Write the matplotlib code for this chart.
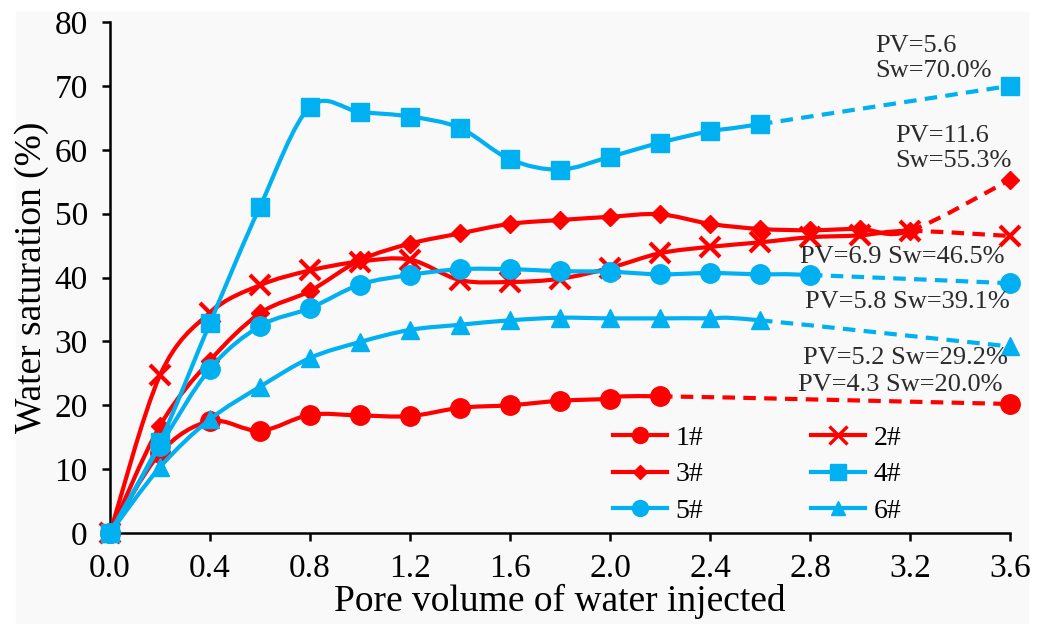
import numpy as np
import matplotlib.pyplot as plt
from matplotlib.path import Path
from matplotlib.patches import PathPatch, Rectangle
from matplotlib.lines import Line2D

plt.rcParams['font.family'] = ['Liberation Serif', 'DejaVu Serif']

# data
pv1 = [0.0, 0.2, 0.4, 0.6, 0.8, 1.0, 1.2, 1.4, 1.6, 1.8, 2.0, 2.2, 3.6]
sw1 = [0.0, 12.5, 17.5, 16.0, 18.5, 18.4, 18.3, 19.6, 20.0, 20.7, 21.0, 21.4, 20.2]

pv2 = [0.0, 0.2, 0.4, 0.6, 0.8, 1.0, 1.2, 1.4, 1.6, 1.8, 2.0, 2.2, 2.4, 2.6, 2.8, 3.0, 3.2, 3.6]
sw2 = [0.0, 24.7, 34.5, 38.8, 41.1, 42.5, 42.8, 39.6, 39.3, 39.8, 41.5, 43.8, 44.8, 45.5, 46.3, 46.6, 47.3, 46.5]

pv3 = [0.0, 0.2, 0.4, 0.6, 0.8, 1.0, 1.2, 1.4, 1.6, 1.8, 2.0, 2.2, 2.4, 2.6, 2.8, 3.0, 3.2, 3.6]
sw3 = [0.0, 16.8, 27.0, 34.4, 37.9, 42.7, 45.3, 46.9, 48.4, 49.0, 49.5, 49.9, 48.4, 47.6, 47.4, 47.6, 47.3, 55.3]

pv4 = [0.0, 0.2, 0.4, 0.6, 0.8, 1.0, 1.2, 1.4, 1.6, 1.8, 2.0, 2.2, 2.4, 2.6, 3.6]
sw4 = [0.0, 14.3, 32.9, 51.1, 66.7, 65.9, 65.2, 63.4, 58.5, 56.9, 58.9, 61.1, 62.9, 64.0, 70.0]

pv5 = [0.0, 0.2, 0.4, 0.6, 0.8, 1.0, 1.2, 1.4, 1.6, 1.8, 2.0, 2.2, 2.4, 2.6, 2.8, 3.6]
sw5 = [0.0, 13.6, 25.7, 32.4, 35.2, 38.9, 40.4, 41.3, 41.3, 41.0, 40.9, 40.5, 40.7, 40.5, 40.4, 39.1]

pv6 = [0.0, 0.2, 0.4, 0.6, 0.8, 1.0, 1.2, 1.4, 1.6, 1.8, 2.0, 2.2, 2.4, 2.6, 3.6]
sw6 = [0.0, 10.3, 17.8, 22.9, 27.4, 29.9, 31.8, 32.6, 33.3, 33.7, 33.6, 33.6, 33.6, 33.3, 29.2]

labels = ['1#', '2#', '3#', '4#', '5#', '6#']

notes = ['PV=5.6\nSw=70.0%', 'PV=11.6\nSw=55.3%', 'PV=6.9 Sw=46.5%',
         'PV=5.8 Sw=39.1%', 'PV=5.2 Sw=29.2%', 'PV=4.3 Sw=20.0%']
note_x = [3.06, 3.14, 2.76, 2.78, 2.77, 2.75]
note_y = [74.3, 60.2, 43.2, 36.2, 27.4, 23.2]

RED = '#ff0000'
BLUE = '#00b0f0'


def bezier_segments(x, y):
    # excel-like smoothing: one cubic bezier per segment
    p = np.column_stack([x, y]).astype(float)
    n = len(p)
    segs = []
    for i in range(n - 1):
        p0 = p[i - 1] if i > 0 else p[i]
        p1, p2 = p[i], p[i + 1]
        p3 = p[i + 2] if i + 2 < n else p[i + 1]
        c1 = p1 + (p2 - p0) / 6
        c2 = p2 - (p3 - p1) / 6
        segs.append((p1, c1, c2, p2))
    return segs


def seg_path(segs):
    verts = [segs[0][0]]
    codes = [Path.MOVETO]
    for s in segs:
        verts += [s[1], s[2], s[3]]
        codes += [Path.CURVE4] * 3
    return Path(verts, codes)


fig = plt.figure(figsize=(10.43, 6.24), dpi=100)
fig.patches.append(Rectangle((16 / 1043, 0), 1012 / 1043, 612 / 624,
                             transform=fig.transFigure, color='#f9f9f9', zorder=-10))
ax = fig.add_axes([110 / 1043, 91 / 624, 900 / 1043, 511 / 624])
ax.patch.set_visible(False)

series = [
    (pv1, sw1, RED, 'o', 14, 0),
    (pv2, sw2, RED, 'x', 15, 3),
    (pv3, sw3, RED, 'D', 9, 0),
    (pv4, sw4, BLUE, 's', 13.5, 0),
    (pv5, sw5, BLUE, 'o', 14, 0),
    (pv6, sw6, BLUE, '^', 13, 0),
]

handles = []
for k, (x, y, c, m, ms, mew) in enumerate(series):
    segs = bezier_segments(x, y)
    z = 2 + k
    ax.add_patch(PathPatch(seg_path(segs[:-1]), fill=False, edgecolor=c, lw=3,
                           zorder=z, capstyle='round'))
    ax.add_patch(PathPatch(seg_path(segs[-1:]), fill=False, edgecolor=c, lw=3,
                           linestyle=(0, (3, 2)), zorder=z))
    ax.plot(x, y, linestyle='none', marker=m, ms=ms, color=c,
            mew=mew if mew else 1, zorder=z + 0.5, clip_on=False)
    handles.append(Line2D([], [], color=c, lw=3, marker=m, ms=ms * 0.82,
                          mew=mew * 0.8 if mew else 1))

for t, xx, yy in zip(notes, note_x, note_y):
    ax.text(xx, yy, t, fontsize=19, color='#2b2b2b', ha='left', va='center',
            linespacing=1.15, zorder=20)

# legend is filled row by row in the reference
order = [0, 2, 4, 1, 3, 5]
ax.legend([handles[i] for i in order], [labels[i] for i in order], ncol=2,
          loc='center', bbox_to_anchor=(0.719, 0.114),
          frameon=False, fontsize=20, handlelength=1.95, handletextpad=0.3,
          columnspacing=3.9, labelspacing=0.4)

ax.set_xlim(0, 3.6)
ax.set_ylim(0, 80)
ax.set_xticks(np.arange(0, 3.61, 0.4))
ax.set_xticklabels(['%.1f' % v for v in np.arange(0, 3.61, 0.4)])
ax.set_yticks(np.arange(0, 81, 10))
ax.spines['top'].set_visible(False)
ax.spines['right'].set_visible(False)
ax.spines['left'].set_linewidth(1.8)
ax.spines['bottom'].set_linewidth(1.8)
ax.tick_params(direction='out', length=6, width=1.8, labelsize=24)
ax.tick_params(axis='x', pad=9)
ax.tick_params(axis='y', pad=10)
ax.set_xlabel('Pore volume of water injected', fontsize=27, labelpad=0)
ax.set_ylabel('Water saturation (%)', fontsize=27, labelpad=4)

fig.savefig('out.png', dpi=100)
